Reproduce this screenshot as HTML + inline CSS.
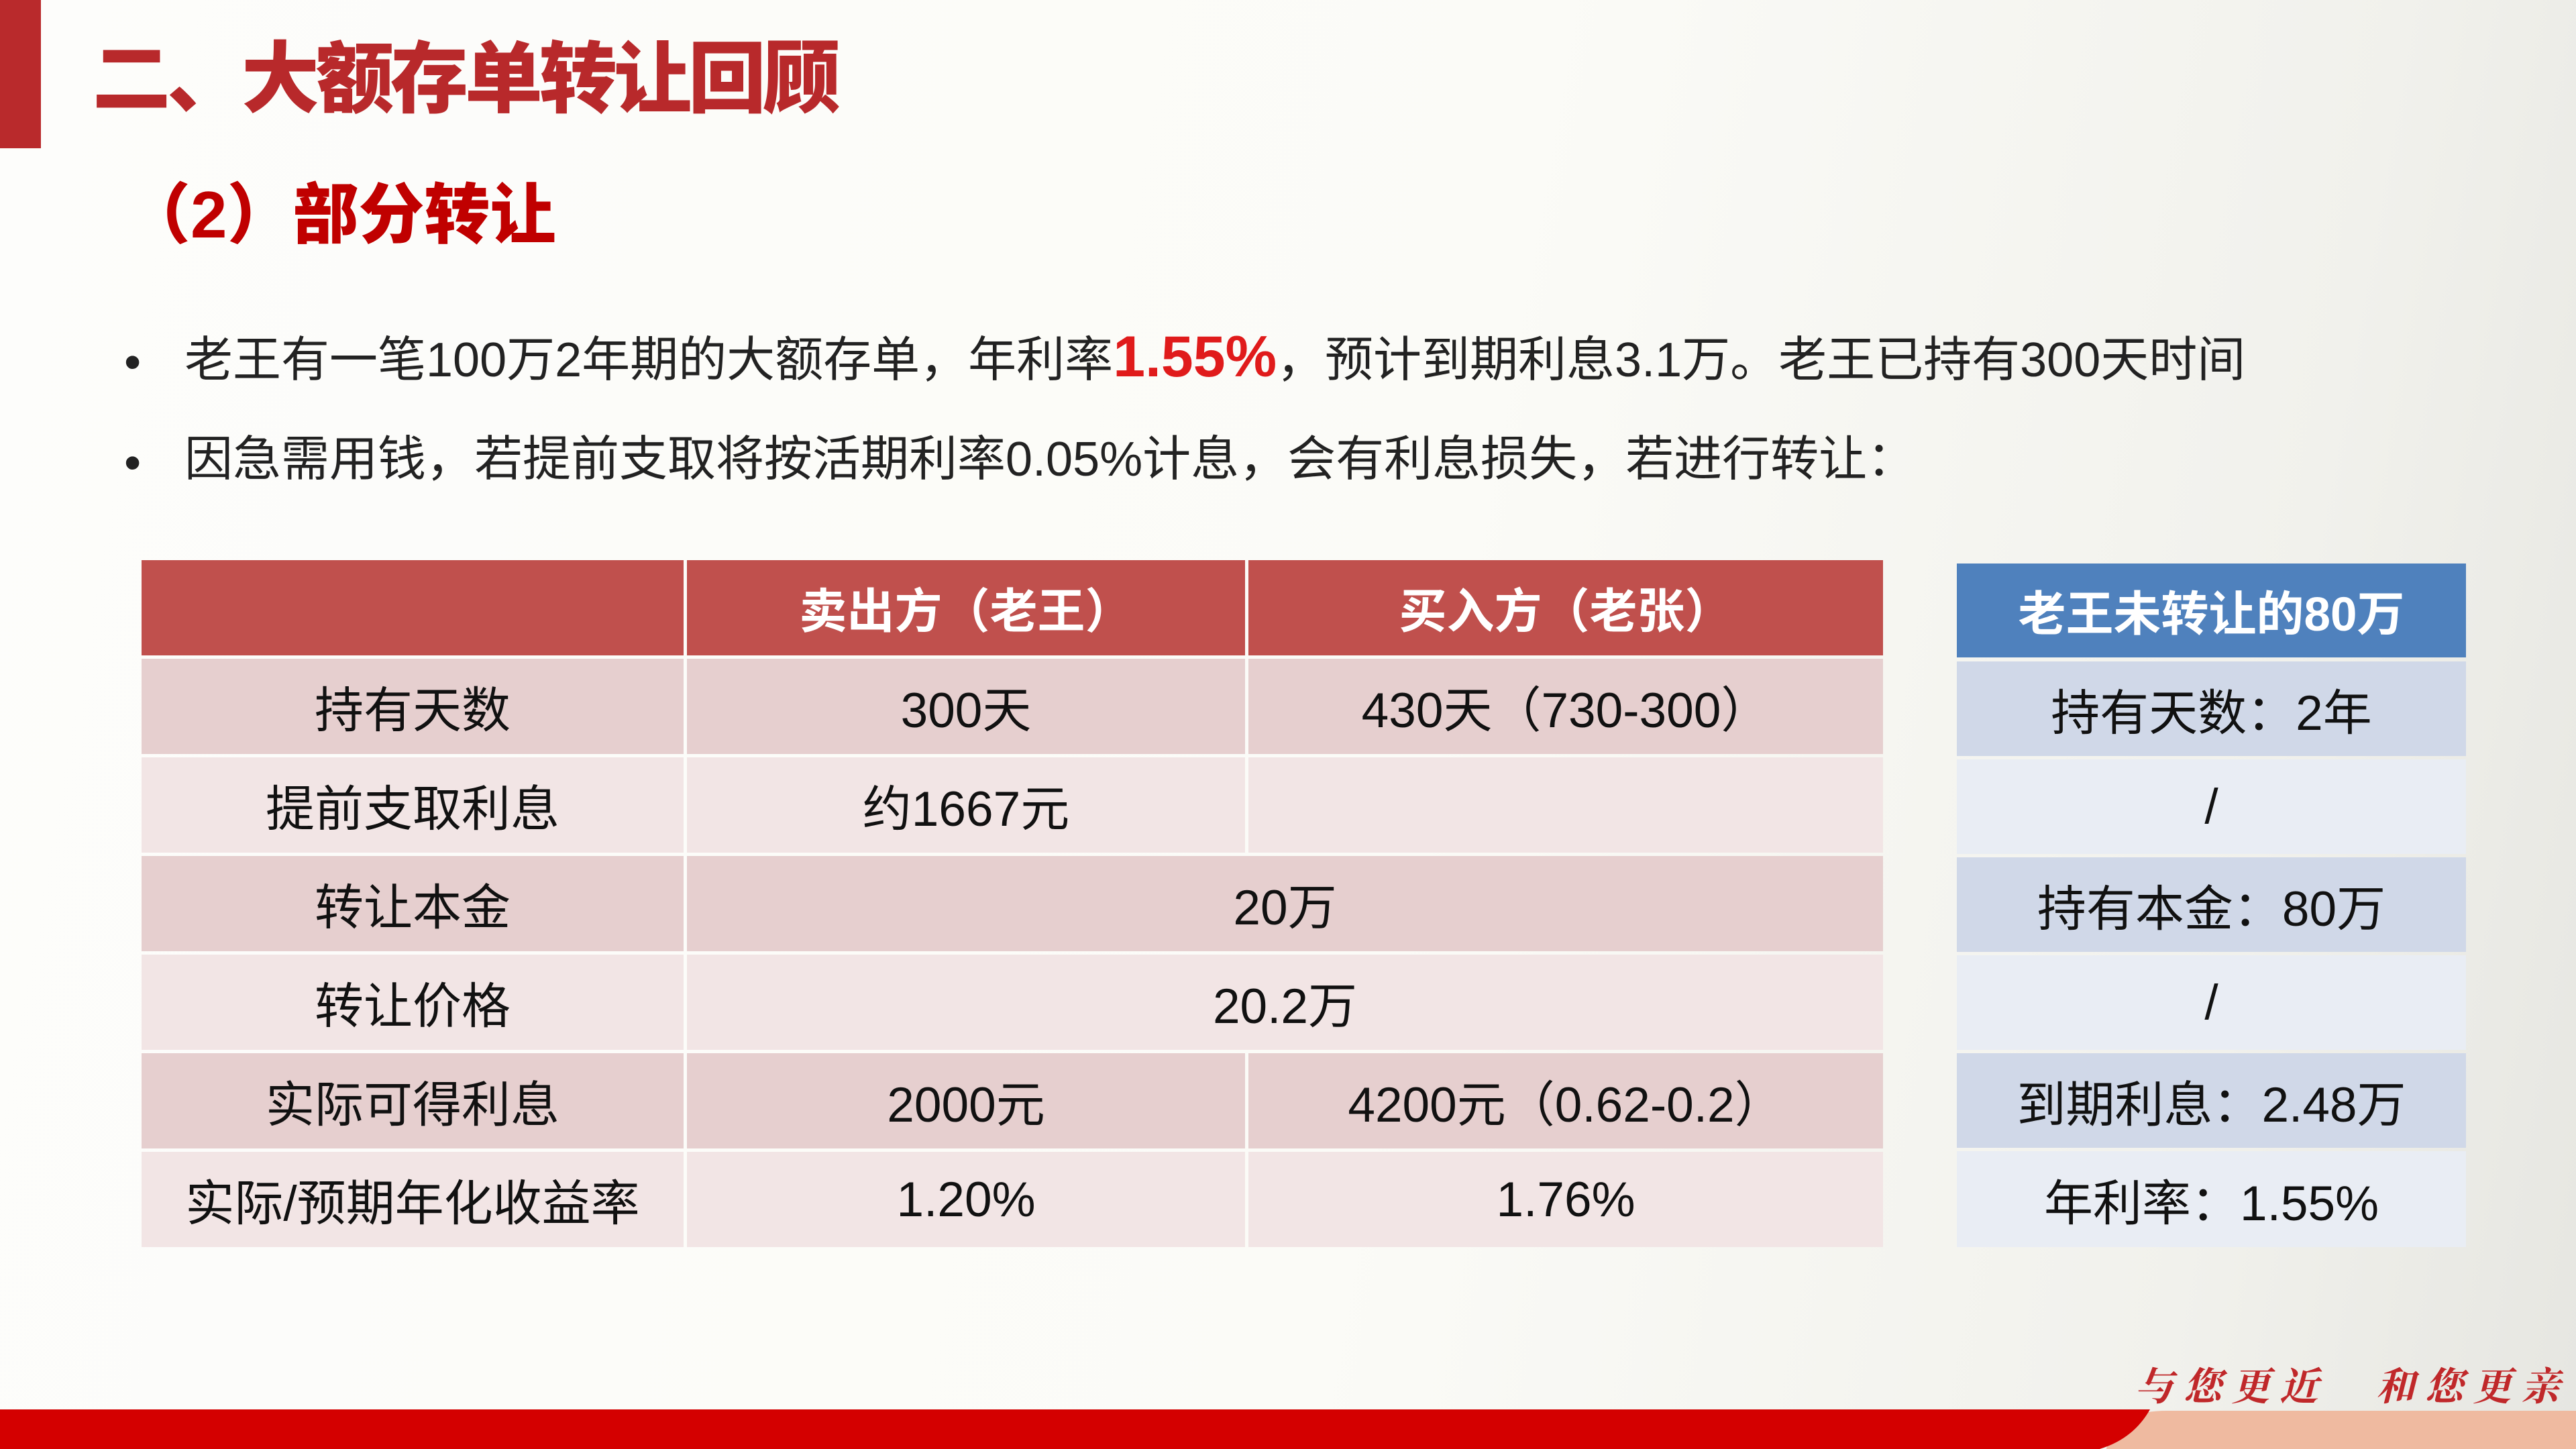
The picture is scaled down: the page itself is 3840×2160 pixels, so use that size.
<!DOCTYPE html>
<html><head><meta charset="utf-8"><style>
*{margin:0;padding:0;box-sizing:border-box}
body{width:3840px;height:2160px;overflow:hidden;font-family:"Liberation Sans","Noto Sans CJK SC",sans-serif}
#p{position:relative;width:3840px;height:2160px;background:linear-gradient(100deg,#fdfdfb 0%,#fbfbf7 55%,#f1f1ec 85%,#e6e6e1 100%)}
.a{position:absolute}
.c{position:absolute;display:flex;align-items:center;justify-content:center;font-size:73px;color:#111;white-space:nowrap}
.h{background:#c0504d;color:#fff;font-weight:bold;font-size:71px}
.d{background:#e6cfcf}.l{background:#f2e5e5}
.bh{background:#4f81bd;color:#fff;font-weight:bold;font-size:71px}
.bd{background:#d0d8e8}.bl{background:#e9edf4}
</style></head><body><div id="p">
<div class="a" style="left:0;top:0;width:61px;height:221px;background:#b92a2c"></div>
<div class="a" style="left:138px;top:38px;font-size:116px;font-weight:900;color:#b8292b;line-height:160px;letter-spacing:-5px">二、大额存单转让回顾</div>
<div class="a" style="left:186px;top:255px;font-size:98px;font-weight:900;color:#c00000;line-height:130px">（2）部分转让</div>
<div class="a" style="left:185px;top:490px;font-size:72px;color:#222;line-height:100px">•</div>
<div class="a" style="left:275px;top:482px;font-size:72px;color:#222;line-height:100px;white-space:nowrap">老王有一笔100万2年期的大额存单，年利率<span style="color:#e01b1b;font-weight:bold;font-size:86px">1.55%</span>，预计到期利息3.1万。老王已持有300天时间</div>
<div class="a" style="left:185px;top:640px;font-size:72px;color:#222;line-height:100px">•</div>
<div class="a" style="left:275px;top:635px;font-size:72px;color:#222;line-height:100px;white-space:nowrap">因急需用钱，若提前支取将按活期利率0.05%计息，会有利息损失，若进行转让：</div>

<div class="c h" style="left:211px;top:835px;width:808px;height:142px"></div>
<div class="c h" style="left:1024px;top:835px;width:832px;height:142px">卖出方（老王）</div>
<div class="c h" style="left:1861px;top:835px;width:946px;height:142px">买入方（老张）</div>

<div class="c d" style="left:211px;top:982px;width:808px;height:142px">持有天数</div>
<div class="c d" style="left:1024px;top:982px;width:832px;height:142px">300天</div>
<div class="c d" style="left:1861px;top:982px;width:946px;height:142px">430天（730-300）</div>

<div class="c l" style="left:211px;top:1129px;width:808px;height:142px">提前支取利息</div>
<div class="c l" style="left:1024px;top:1129px;width:832px;height:142px">约1667元</div>
<div class="c l" style="left:1861px;top:1129px;width:946px;height:142px"></div>

<div class="c d" style="left:211px;top:1276px;width:808px;height:142px">转让本金</div>
<div class="c d" style="left:1024px;top:1276px;width:1783px;height:142px">20万</div>

<div class="c l" style="left:211px;top:1423px;width:808px;height:142px">转让价格</div>
<div class="c l" style="left:1024px;top:1423px;width:1783px;height:142px">20.2万</div>

<div class="c d" style="left:211px;top:1570px;width:808px;height:142px">实际可得利息</div>
<div class="c d" style="left:1024px;top:1570px;width:832px;height:142px">2000元</div>
<div class="c d" style="left:1861px;top:1570px;width:946px;height:142px">4200元（0.62-0.2）</div>

<div class="c l" style="left:211px;top:1717px;width:808px;height:142px">实际/预期年化收益率</div>
<div class="c l" style="left:1024px;top:1717px;width:832px;height:142px">1.20%</div>
<div class="c l" style="left:1861px;top:1717px;width:946px;height:142px">1.76%</div>

<div class="c bh" style="left:2917px;top:840px;width:759px;height:140px">老王未转让的80万</div>
<div class="c bd" style="left:2917px;top:986px;width:759px;height:141px">持有天数：2年</div>
<div class="c bl" style="left:2917px;top:1132px;width:759px;height:141px">/</div>
<div class="c bd" style="left:2917px;top:1278px;width:759px;height:141px">持有本金：80万</div>
<div class="c bl" style="left:2917px;top:1424px;width:759px;height:141px">/</div>
<div class="c bd" style="left:2917px;top:1570px;width:759px;height:141px">到期利息：2.48万</div>
<div class="c bl" style="left:2917px;top:1716px;width:759px;height:143px">年利率：1.55%</div>

<div class="a" style="left:3182px;top:2020px;font-family:'Noto Serif CJK SC',serif;font-size:58px;font-weight:bold;color:#c0282a;letter-spacing:14px;white-space:nowrap;font-style:italic">与您更近　和您更亲</div>
<svg class="a" style="left:0;top:2095px" width="3840" height="65">
<path d="M3175 8 Q3230 8 3840 8 L3840 65 L3140 65 Q3150 8 3230 8Z" fill="#efbaa0"/>
<path d="M0 6 L3205 6 Q3180 50 3130 65 L0 65Z" fill="#d40000"/>
</svg>
</div></body></html>
